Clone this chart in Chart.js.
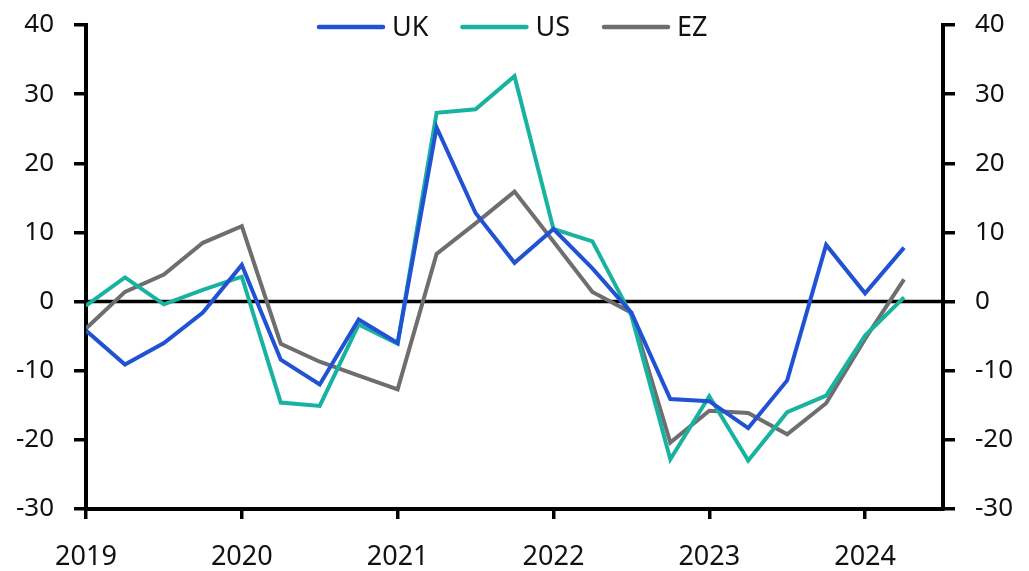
<!DOCTYPE html>
<html>
<head>
<meta charset="utf-8">
<script src="https://cdn.jsdelivr.net/npm/chart.js@4.4.1/dist/chart.umd.min.js"></script>
<style>
html,body{margin:0;padding:0;background:#fff;}
#wrap{width:1029px;height:571px;}
</style>
</head>
<body>
<div id="wrap"><canvas id="c" width="1029" height="571"></canvas></div>
<script>
// Quarterly periods, 2019 Q1 .. 2024 Q2 (x as decimal years)
const quarters = [2019,2019.25,2019.5,2019.75,2020,2020.25,2020.5,2020.75,2021,2021.25,2021.5,2021.75,
                  2022,2022.25,2022.5,2022.75,2023,2023.25,2023.5,2023.75,2024,2024.25];
const ukValues = [-4.2,-9.1,-6.0,-1.6,5.3,-8.4,-12.0,-2.6,-6.0,25.2,12.8,5.6,
                  10.5,4.8,-1.6,-14.1,-14.4,-18.3,-11.4,8.2,1.2,7.8];
const usValues = [-0.6,3.5,-0.4,1.7,3.6,-14.6,-15.1,-3.3,-6.1,27.3,27.8,32.6,
                  10.5,8.7,-2.0,-22.8,-13.7,-23.0,-16.0,-13.6,-4.9,0.6];
const ezValues = [-3.9,1.4,3.9,8.5,10.9,-6.1,-8.7,-10.7,-12.7,6.9,11.3,15.9,
                  8.7,1.4,-1.6,-20.4,-15.8,-16.1,-19.2,-14.7,-5.4,3.2];
const seriesNames = ['UK','US','EZ'];
const seriesColors = ['#2152d3','#18b3a0','#6e6e6e'];
const xTickYears = [2019,2020,2021,2022,2023,2024];
const yTicks = [-30,-20,-10,0,10,20,30,40];

const FONT = '"Noto Sans", "DejaVu Sans", sans-serif';

function pts(vals){ return quarters.map((q,i)=>({x:q,y:vals[i]})); }

const zeroLine = {
  id:'zeroLine',
  beforeDatasetsDraw(chart){
    const {ctx, chartArea, scales} = chart;
    const y = scales.y.getPixelForValue(0);
    ctx.save();
    ctx.strokeStyle = '#000';
    ctx.lineWidth = 3.5;
    ctx.beginPath();
    ctx.moveTo(chartArea.left, y);
    ctx.lineTo(chartArea.right, y);
    ctx.stroke();
    ctx.restore();
  }
};

const customLegend = {
  id:'customLegend',
  afterDraw(chart){
    const ctx = chart.ctx;
    ctx.save();
    ctx.font = '27px ' + FONT;
    ctx.textBaseline = 'middle';
    let x = 317;
    const y = 27;
    chart.data.datasets.forEach(ds=>{
      ctx.strokeStyle = ds.borderColor;
      ctx.lineWidth = 4.5;
      ctx.lineCap = 'round';
      ctx.beginPath();
      ctx.moveTo(x+2, y);
      ctx.lineTo(x+66, y);
      ctx.stroke();
      x += 75;
      ctx.fillStyle = '#111';
      ctx.fillText(ds.label, x, y+1);
      x += ctx.measureText(ds.label).width + 32;
    });
    ctx.restore();
  }
};

const yAxisCommon = (position)=>({
  type:'linear',
  position,
  min:-30, max:40,
  afterBuildTicks(s){ s.ticks = yTicks.map(v=>({value:v})); },
  afterFit(s){ s.width = 86; s.paddingTop = 0; s.paddingBottom = 0; },
  border:{display:true,color:'#000',width:4},
  grid:{display:true,drawOnChartArea:false,drawTicks:true,tickLength:12,color:'#000',lineWidth:3.5},
  ticks:{color:'#111',font:{family:FONT,size:26},padding:20}
});

new Chart(document.getElementById('c'),{
  type:'line',
  data:{
    datasets:[
      {label:seriesNames[0],data:pts(ukValues),borderColor:seriesColors[0],yAxisID:'y'},
      {label:seriesNames[1],data:pts(usValues),borderColor:seriesColors[1],yAxisID:'y'},
      {label:seriesNames[2],data:pts(ezValues),borderColor:seriesColors[2],yAxisID:'y'}
    ]
  },
  options:{
    responsive:false,
    animation:false,
    devicePixelRatio:1,
    layout:{padding:{top:25,left:0,right:0,bottom:0}},
    elements:{
      line:{borderWidth:4,tension:0,borderJoinStyle:'miter',fill:false},
      point:{radius:0,hoverRadius:0}
    },
    plugins:{legend:{display:false},tooltip:{enabled:false}},
    scales:{
      x:{
        type:'linear',
        min:2019,max:2024.5,
        afterBuildTicks(s){ s.ticks = xTickYears.map(v=>({value:v})); },
        afterFit(s){ s.height = 62; s.paddingLeft = 0; s.paddingRight = 0; },
        border:{display:true,color:'#000',width:4},
        grid:{display:true,drawOnChartArea:false,drawTicks:true,tickLength:10,color:'#000',lineWidth:3.5},
        ticks:{color:'#111',font:{family:FONT,size:27},padding:22,maxRotation:0,callback:v=>String(v)}
      },
      y:yAxisCommon('left'),
      y2:yAxisCommon('right')
    }
  },
  plugins:[zeroLine,customLegend]
});
</script>
</body>
</html>
